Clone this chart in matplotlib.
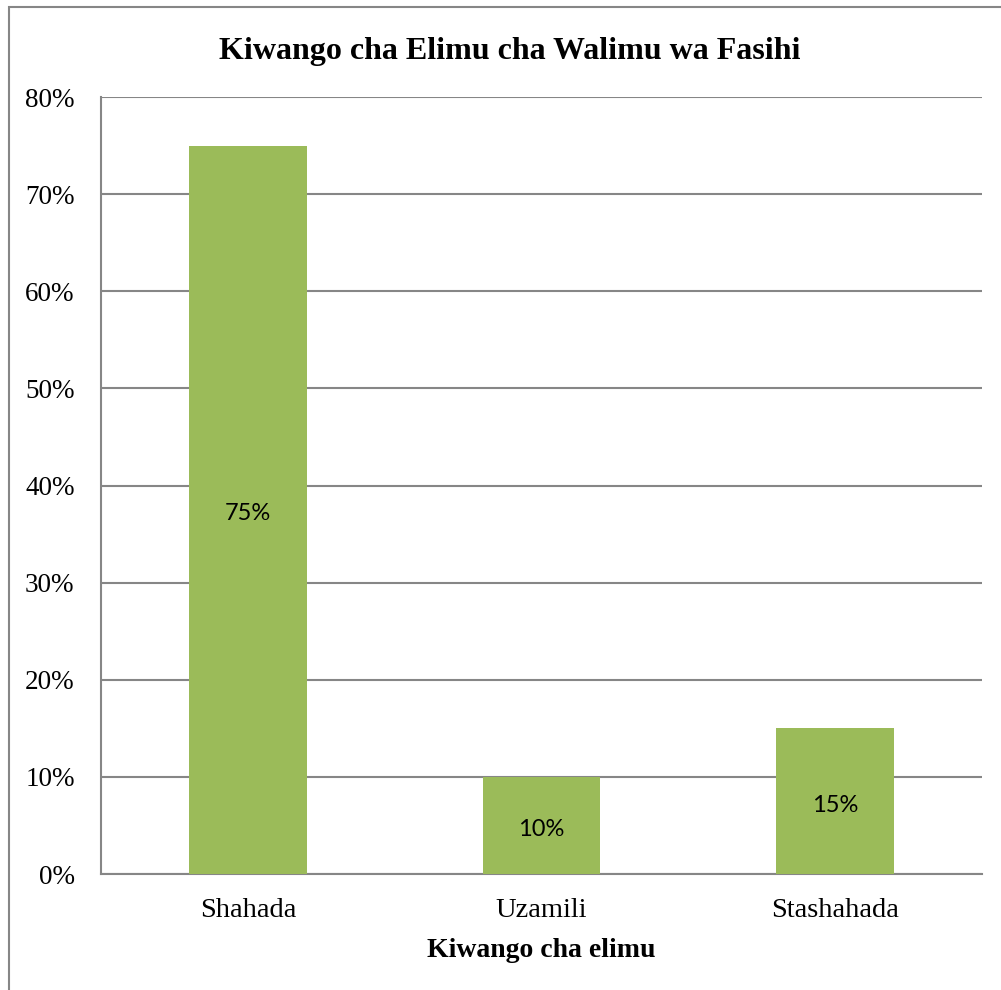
import matplotlib.pyplot as plt
from matplotlib.patches import Rectangle

categories = ["Shahada", "Uzamili", "Stashahada"]
values = [75, 10, 15]
yticks = [0, 10, 20, 30, 40, 50, 60, 70, 80]

BAR = "#9BBB59"
GRID = "#868686"

fig = plt.figure(figsize=(10.01, 9.9), dpi=100)
ax = fig.add_axes([101 / 1001, 1 - 874 / 990, 881 / 1001, 777 / 990])

x = range(len(categories))
bars = ax.bar(x, values, width=0.4, color=BAR, zorder=3)
for b, v in zip(bars, values):
    ax.annotate(f"{v}%", (b.get_x() + b.get_width() / 2, v / 2), xytext=(0, -3),
                textcoords="offset points", ha="center", va="center",
                fontsize=17, family="Lato", color="black", zorder=4)

ax.set_xlim(-0.5, 2.5)
ax.set_ylim(0, 80)
ax.set_yticks(yticks)
ax.set_yticklabels([f"{t}%" for t in yticks], family="Liberation Serif", fontsize=19.5)
ax.set_xticks(list(x))
ax.set_xticklabels(categories, family="Liberation Serif", fontsize=20.5)
ax.tick_params(axis="y", length=0, pad=19)
ax.tick_params(axis="x", length=0, pad=17)
ax.yaxis.grid(True, color=GRID, linewidth=1.5, zorder=0)
for s in ["top", "right"]:
    ax.spines[s].set_visible(False)
for s in ["left", "bottom"]:
    ax.spines[s].set_color(GRID)
    ax.spines[s].set_linewidth(1.5)

ax.set_xlabel("Kiwango cha elimu", family="Liberation Serif", fontsize=20,
              fontweight="bold", labelpad=11)
fig.text(510 / 1001, 1 - 51 / 990, "Kiwango cha Elimu cha Walimu wa Fasihi",
         ha="center", va="center", family="Liberation Serif", fontsize=23, fontweight="bold")

# outer chart border
fig.patches.append(Rectangle((9 / 1001, -0.1), 1.2, 1 - 7 / 990 + 0.1, transform=fig.transFigure,
                             fill=False, edgecolor=GRID, linewidth=1.5))

fig.savefig("out.png", dpi=100)
